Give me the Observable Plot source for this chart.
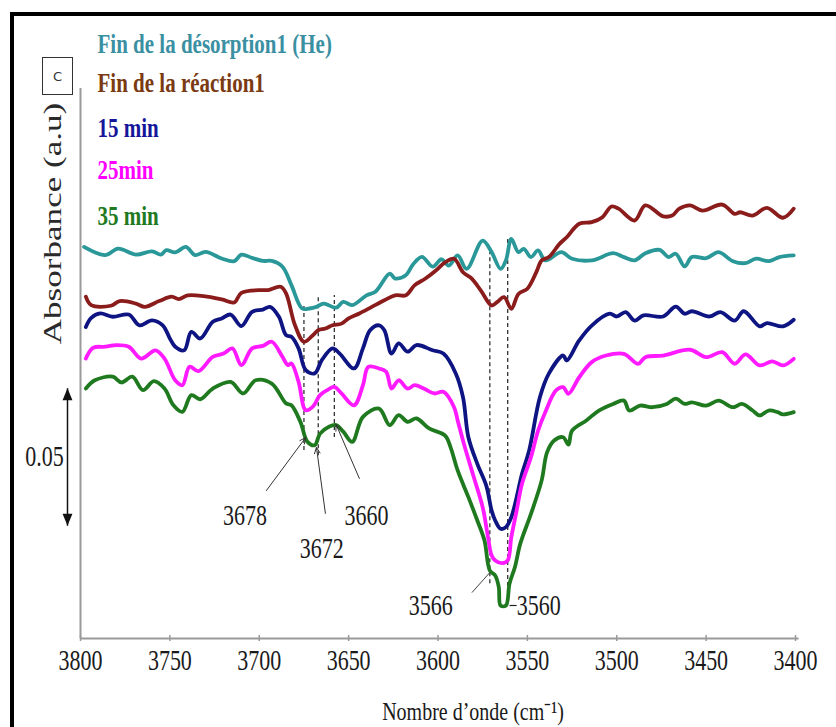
<!DOCTYPE html>
<html>
<head>
<meta charset="utf-8">
<script src="https://cdn.jsdelivr.net/npm/d3@7"></script>
<script src="https://cdn.jsdelivr.net/npm/@observablehq/plot@0.6"></script>
<style>
  html, body { margin: 0; padding: 0; background: #fff; overflow: hidden; }
  #wrap { position: relative; width: 836px; height: 727px; }
  #wrap svg { position: absolute; left: 0; top: 0; }
  #border { position: absolute; left: 10px; top: 12px; right: 0; bottom: 0; border-left: 4px solid #000; border-top: 4px solid #000; pointer-events: none; }
  #boxC { position: absolute; left: 42px; top: 57px; width: 29px; height: 36px; border: 1px solid #333; font: 13px "DejaVu Sans", sans-serif; color: #333; display: flex; align-items: center; justify-content: center; }
</style>
</head>
<body>
<div id="wrap"><div id="border"></div><div id="boxC">C</div></div>
<script>
// ---------- data ----------
const seriesNames = ["Fin de la désorption1 (He)", "Fin de la réaction1", "15 min", "25min", "35 min"];
const curveColors = ["#2a9898", "#8b1c1c", "#0e1582", "#ff1aff", "#1f7a1f"];
const legendColors = ["#3a90a2", "#7a3a12", "#16169a", "#ff00ff", "#217a21"];

const wnDesorption = [3798,3786,3779,3769,3760,3755,3752,3747,3741,3736,3730,3721,3714,3710,3704,3698,3693,3687,3682,3676,3672,3668,3664,3657,3653,3648,3640,3635,3627,3624,3618,3614,3609,3603,3598,3594,3589,3584,3575,3570,3565,3562,3559,3555,3552,3548,3544,3540,3531,3525,3514,3502,3496,3490,3484,3476,3471,3467,3462,3458,3450,3443,3435,3428,3422,3415,3409,3401];
const absDesorption = [0.1424,0.1394,0.1418,0.1396,0.1408,0.1396,0.1412,0.1404,0.1424,0.1394,0.1406,0.1382,0.1372,0.1396,0.1384,0.1373,0.1373,0.1352,0.1285,0.1200,0.1200,0.1206,0.1218,0.1203,0.1224,0.1212,0.1248,0.1261,0.1327,0.1309,0.1321,0.1360,0.1388,0.1352,0.1379,0.1356,0.1393,0.1344,0.1447,0.1405,0.1344,0.1375,0.1453,0.1405,0.1417,0.1387,0.1411,0.1375,0.1405,0.1381,0.1375,0.1401,0.1387,0.1375,0.1401,0.1413,0.1387,0.1399,0.1353,0.1387,0.1383,0.1405,0.1372,0.1365,0.1381,0.1372,0.1387,0.1393];

const wnReaction = [3797,3794,3783,3778,3769,3764,3756,3749,3745,3740,3731,3721,3714,3710,3698,3695,3688,3685,3680,3675,3670,3667,3663,3659,3654,3650,3644,3637,3630,3624,3618,3613,3607,3601,3596,3591,3586,3581,3576,3570,3567,3563,3559,3555,3550,3545,3542,3538,3532,3528,3521,3514,3508,3503,3499,3490,3484,3474,3469,3465,3459,3452,3441,3434,3431,3424,3416,3407,3401];
const absReaction = [0.1243,0.1212,0.1210,0.1227,0.1218,0.1206,0.1227,0.1243,0.1234,0.1248,0.1245,0.1233,0.1222,0.1257,0.1267,0.1267,0.1279,0.1255,0.1139,0.1079,0.1103,0.1121,0.1127,0.1139,0.1145,0.1164,0.1182,0.1206,0.1230,0.1248,0.1248,0.1285,0.1309,0.1339,0.1368,0.1381,0.1332,0.1308,0.1265,0.1211,0.1223,0.1241,0.1199,0.1253,0.1272,0.1332,0.1375,0.1387,0.1435,0.1459,0.1508,0.1514,0.1532,0.1571,0.1563,0.1520,0.1575,0.1535,0.1538,0.1563,0.1575,0.1556,0.1578,0.1544,0.1550,0.1538,0.1566,0.1530,0.1563];

const wn15 = [3797,3794,3789,3782,3773,3767,3760,3754,3750,3747,3742,3738,3733,3726,3721,3716,3710,3704,3698,3694,3689,3685,3682,3678,3674,3669,3665,3659,3655,3647,3642,3638,3633,3630,3626,3622,3617,3612,3603,3597,3590,3586,3583,3578,3573,3570,3568,3565,3562,3559,3556,3553,3549,3543,3538,3530,3528,3521,3514,3504,3500,3495,3490,3485,3474,3467,3462,3458,3448,3442,3434,3429,3420,3416,3407,3401];
const abs15 = [0.1133,0.1166,0.1182,0.1170,0.1178,0.1139,0.1157,0.1139,0.1091,0.1061,0.1048,0.1115,0.1091,0.1152,0.1164,0.1178,0.1136,0.1188,0.1196,0.1206,0.1170,0.1103,0.1097,0.1055,0.0976,0.0964,0.1012,0.1055,0.1036,0.0982,0.1055,0.1121,0.1139,0.1121,0.1036,0.1073,0.1043,0.1067,0.1048,0.1036,0.0963,0.0877,0.0732,0.0635,0.0556,0.0465,0.0429,0.0399,0.0405,0.0441,0.0514,0.0599,0.0684,0.0877,0.0963,0.1029,0.1011,0.1084,0.1138,0.1181,0.1171,0.1187,0.1156,0.1175,0.1171,0.1207,0.1181,0.1190,0.1171,0.1187,0.1156,0.1190,0.1135,0.1147,0.1135,0.1159];

const wn25 = [3797,3793,3786,3780,3773,3766,3758,3753,3747,3743,3739,3734,3726,3720,3715,3710,3704,3698,3693,3687,3684,3682,3678,3674,3670,3666,3662,3658,3654,3647,3642,3639,3633,3629,3626,3622,3617,3613,3608,3602,3597,3591,3589,3585,3580,3575,3572,3570,3568,3564,3561,3559,3556,3553,3548,3544,3540,3534,3530,3527,3521,3514,3506,3496,3488,3484,3474,3459,3450,3441,3434,3428,3420,3413,3407,3401];
const abs25 = [0.1018,0.1057,0.1061,0.1067,0.1061,0.1018,0.1048,0.1018,0.0939,0.0921,0.0988,0.0972,0.1024,0.1036,0.1055,0.0994,0.1055,0.1064,0.1079,0.1024,0.0994,0.1000,0.0933,0.0830,0.0843,0.0885,0.0903,0.0915,0.0891,0.0848,0.0921,0.0988,0.0982,0.0970,0.0909,0.0939,0.0909,0.0921,0.0909,0.0891,0.0897,0.0841,0.0793,0.0696,0.0587,0.0477,0.0368,0.0302,0.0284,0.0274,0.0284,0.0368,0.0465,0.0563,0.0659,0.0756,0.0823,0.0902,0.0914,0.0890,0.0950,0.1005,0.1029,0.1035,0.0999,0.1023,0.1029,0.1050,0.1023,0.1041,0.0999,0.1033,0.0993,0.1008,0.0993,0.1017];

const wn35 = [3797,3792,3782,3777,3771,3765,3759,3753,3748,3743,3738,3733,3726,3716,3709,3702,3693,3685,3682,3677,3673,3669,3666,3661,3657,3653,3648,3642,3633,3627,3622,3617,3612,3605,3596,3593,3589,3583,3578,3574,3571,3568,3566,3565,3562,3560,3557,3554,3548,3542,3539,3535,3530,3527,3525,3517,3510,3502,3496,3493,3487,3480,3472,3467,3462,3458,3450,3443,3435,3430,3424,3420,3415,3410,3407,3401];
const abs35 = [0.0909,0.0939,0.0952,0.0931,0.0952,0.0903,0.0936,0.0909,0.0848,0.0824,0.0885,0.0870,0.0909,0.0933,0.0891,0.0939,0.0927,0.0855,0.0848,0.0788,0.0715,0.0703,0.0745,0.0770,0.0776,0.0752,0.0715,0.0806,0.0836,0.0776,0.0812,0.0788,0.0800,0.0764,0.0738,0.0696,0.0611,0.0514,0.0429,0.0356,0.0247,0.0229,0.0187,0.0120,0.0120,0.0199,0.0259,0.0344,0.0453,0.0575,0.0677,0.0720,0.0732,0.0705,0.0756,0.0793,0.0829,0.0853,0.0865,0.0829,0.0847,0.0841,0.0853,0.0872,0.0853,0.0859,0.0847,0.0865,0.0841,0.0853,0.0829,0.0811,0.0829,0.0823,0.0815,0.0823];

const xTicks = [3800, 3750, 3700, 3650, 3600, 3550, 3500, 3450, 3400];

// dashed marker lines (wavenumber, from, to)
const dashWn = [3675, 3667, 3658, 3571, 3561];
const dashFrom = [0.0684, 0.0665, 0.0731, 0.0199, 0.0138];
const dashTo = [0.1207, 0.1247, 0.1247, 0.1405, 0.1453];

// peak annotations
const peakLabels = ["3678", "3672", "3660", "3566"];
const peakLabelWn = [3708, 3665, 3640, 3604];
const peakLabelAbs = [0.0447, 0.0327, 0.0447, 0.0120];
const arrowFromWn = [3696, 3663, 3644];
const arrowFromAbs = [0.0538, 0.0455, 0.0582];
const arrowToWn = [3674, 3668, 3657];
const arrowToAbs = [0.0731, 0.0695, 0.0778];
const leader3566 = {x1: 3581, y1: 0.0167, x2: 3571, y2: 0.0240};
const label3560 = {text: "3560", wn: 3556, abs: 0.0120, leaderFrom: 3560};

// scale bar
const scaleBarValue = 0.05;
const scaleBarBase = 0.041;

// ---------- tables ----------
const wnAll = [wnDesorption, wnReaction, wn15, wn25, wn35];
const absAll = [absDesorption, absReaction, abs15, abs25, abs35];
const rows = [];
seriesNames.forEach((name, s) => {
  const n = Math.min(wnAll[s].length, absAll[s].length);
  for (let i = 0; i < n; i++) rows.push({series: name, wn: wnAll[s][i], abs: absAll[s][i]});
});
const dashes = dashWn.map((w, i) => ({wn: w, y1: dashFrom[i], y2: dashTo[i]}));
const labels = peakLabels.map((t, i) => ({text: t, wn: peakLabelWn[i], abs: peakLabelAbs[i]}));
const arrows = arrowFromWn.map((w, i) => ({x1: w, y1: arrowFromAbs[i], x2: arrowToWn[i], y2: arrowToAbs[i]}));
const scaleBar = [{wn: 3800, y1: scaleBarBase, y2: scaleBarBase + scaleBarValue, mid: scaleBarBase + scaleBarValue / 2}];

const triUp = {draw(ctx, size) { const s = Math.sqrt(size) * 0.62; ctx.moveTo(0, -s * 1.1); ctx.lineTo(s * 0.9, s * 1.1); ctx.lineTo(-s * 0.9, s * 1.1); ctx.closePath(); }};
const triDown = {draw(ctx, size) { const s = Math.sqrt(size) * 0.62; ctx.moveTo(0, s * 1.1); ctx.lineTo(s * 0.9, -s * 1.1); ctx.lineTo(-s * 0.9, -s * 1.1); ctx.closePath(); }};

const serif = "'Liberation Serif', 'Times New Roman', serif";
const legendDy = [-44, -5, 40, 82, 128];

const chart = Plot.plot({
  width: 836,
  height: 727,
  marginLeft: 80,
  marginRight: 41,
  marginTop: 88,
  marginBottom: 89,
  style: {fontFamily: serif, background: "transparent", overflow: "visible"},
  x: {domain: [3800, 3400], axis: null},
  y: {domain: [0, 0.2], axis: null},
  color: {domain: seriesNames, range: curveColors},
  marks: [
    // axes lines
    Plot.ruleX([3800], {stroke: "#9a9a9a", strokeWidth: 2}),
    Plot.ruleY([0], {x1: 3800, x2: 3398, stroke: "#9a9a9a", strokeWidth: 2}),
    Plot.ruleX(xTicks, {x: d => d, y1: -0.0011, y2: 0.0011, stroke: "#9a9a9a", strokeWidth: 1.5}),
    Plot.text(xTicks, {x: d => d, text: d => String(d), frameAnchor: "bottom", lineAnchor: "middle", dy: 22, fontSize: 22, fill: "#1a1a1a"}),
    Plot.text(["Nombre d\u2019onde (cm\u207B\u00B9)"], {frameAnchor: "bottom", lineAnchor: "middle", textAnchor: "middle", dx: 35, dy: 73, fontSize: 20, fill: "#1a1a1a"}),
    Plot.text(["Absorbance (a.u)"], {frameAnchor: "top-left", lineAnchor: "middle", textAnchor: "middle", dx: -28, dy: 135, rotate: -90, fontSize: 26, fill: "#2a2a2a", className: "ylab"}),
    // dashed reference lines
    Plot.ruleX(dashes, {x: "wn", y1: "y1", y2: "y2", stroke: "#222", strokeWidth: 1.2, strokeDasharray: "4,3"}),
    // spectra
    Plot.line(rows, {x: "wn", y: "abs", z: "series", stroke: "series", curve: "catmull-rom", strokeWidth: 3.8, strokeLinejoin: "round", strokeLinecap: "round"}),
    // annotations
    Plot.arrow(arrows, {x1: "x1", y1: "y1", x2: "x2", y2: "y2", stroke: "#333", strokeWidth: 1, headLength: 10, headAngle: 50}),
    Plot.link([leader3566], {x1: "x1", y1: "y1", x2: "x2", y2: "y2", stroke: "#444", strokeWidth: 1}),
    Plot.link([label3560], {x1: "leaderFrom", x2: "wn", y1: "abs", y2: "abs", stroke: "#222", strokeWidth: 1.2}),
    Plot.text(labels, {x: "wn", y: "abs", text: "text", lineAnchor: "middle", fontSize: 22, fill: "#1a1a1a"}),
    Plot.text([label3560], {x: "wn", y: "abs", text: "text", textAnchor: "start", lineAnchor: "middle", fontSize: 22, fill: "#1a1a1a"}),
    // scale bar
    Plot.link(scaleBar, {x1: "wn", x2: "wn", y1: "y1", y2: "y2", dx: -13, stroke: "#111", strokeWidth: 1.5}),
    Plot.dot(scaleBar, {x: "wn", y: "y2", dx: -13, dy: 6, r: 5, symbol: triUp, fill: "#111", stroke: "none"}),
    Plot.dot(scaleBar, {x: "wn", y: "y1", dx: -13, dy: -6, r: 5, symbol: triDown, fill: "#111", stroke: "none"}),
    Plot.text(scaleBar, {x: "wn", y: "mid", text: () => String(scaleBarValue), lineAnchor: "middle", dx: -36, fontSize: 22, fill: "#1a1a1a"}),
    // legend
    ...seriesNames.map((name, i) => Plot.text([name], {frameAnchor: "top-left", lineAnchor: "middle", textAnchor: "start", dx: 17, dy: legendDy[i], fontSize: 21, fontWeight: "bold", fill: legendColors[i]}))
  ]
});

document.getElementById("wrap").prepend(chart);

// vertical stretch of the glyphs, like the reference picture
for (const t of chart.querySelectorAll("text")) {
  const rotated = t.closest(".ylab") != null;
  const sx = rotated ? 1.35 : 1, sy = rotated ? 1 : 1.3;
  const tr = t.getAttribute("transform") || "";
  t.setAttribute("transform", `${tr} scale(${sx},${sy})`);
}
</script>
</body>
</html>
